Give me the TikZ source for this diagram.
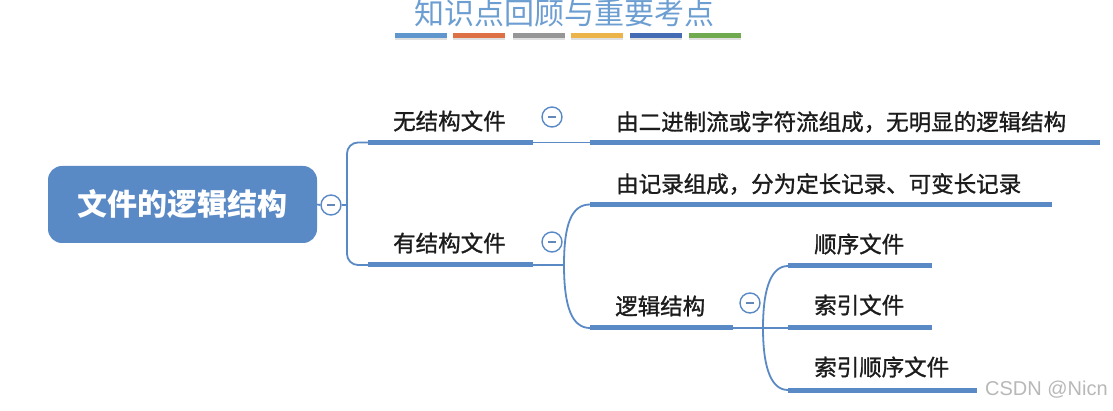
\documentclass[tikz,border=0pt]{standalone}
\usepackage{fontspec}
\newfontfamily\cjk{Noto Sans CJK SC}
\newfontfamily\cjkm[FakeBold=1.2]{Noto Sans CJK SC}
\newfontfamily\wmfont{Liberation Sans}
\definecolor{xblue}{RGB}{90,138,198}
\definecolor{titleblue}{RGB}{108,158,210}
\definecolor{txt}{RGB}{28,28,28}
\definecolor{barA}{RGB}{96,150,206}
\definecolor{barB}{RGB}{222,112,70}
\definecolor{barC}{RGB}{150,150,150}
\definecolor{barD}{RGB}{236,180,72}
\definecolor{barE}{RGB}{68,108,180}
\definecolor{barF}{RGB}{112,170,78}
\begin{document}
\begin{tikzpicture}[x=1pt,y=-1pt,
  rootbox/.style={draw=none, fill=xblue, rounded corners=14pt, minimum width=269pt, minimum height=77pt, inner sep=0pt, text=white, font=\cjk\bfseries\fontsize{30}{34}\selectfont},
  lbl/.style={anchor=west, inner sep=0pt, text=txt, font=\cjkm\fontsize{22.5}{27}\selectfont},
  uline/.style={draw=xblue, line width=5pt},
  conn/.style={draw=xblue, line width=1.8pt},
  fold/.style={circle, draw=xblue, line width=1.4pt, fill=white, minimum size=20pt, inner sep=0pt,
    path picture={\draw[xblue!80!gray, line width=1.3pt] (path picture bounding box.center) ++(-4pt,0pt) -- ++(8pt,0pt);}},
  bar/.style={inner sep=0pt, minimum width=52pt, minimum height=5pt, draw=none},
]
\useasboundingbox (0,0) rectangle (1113,411);
\fill[white] (0,0) rectangle (1113,411);

% title
\node[font=\cjk\fontsize{30}{34}\selectfont, text=titleblue, inner sep=0pt] (title) at (564,13.5) {知识点回顾与重要考点};
\foreach \x/\c [count=\i] in {421/barA,478.5/barB,538.5/barC,597/barD,655.5/barE,714.5/barF}{
  \fill[black!12] (\x-26,35) rectangle (\x+26,40.5);
  \node[bar, fill=\c] (bar\i) at (\x,36) {};
}

% root and fold buttons
\node[rootbox] (root) at (182.5,204.5) {文件的逻辑结构};
\node[fold] (f0) at (331,205) {};
\node[fold] (f1) at (552,117) {};
\node[fold] (f2) at (552,242) {};
\node[fold] (f3) at (750,303) {};

% coordinates
\coordinate (j0) at (347,205);
\coordinate (u1s) at (368,142.5);
\coordinate (u1e) at (533,142.5);
\coordinate (u1b) at (590,142.5);
\coordinate (u1f) at (1100,142.5);
\coordinate (u2s) at (368,265);
\coordinate (u2e) at (533,265);
\coordinate (j2) at (564,265);
\coordinate (u3s) at (590,204.5);
\coordinate (u3e) at (1052,204.5);
\coordinate (u4s) at (590,328);
\coordinate (u4e) at (733,328);
\coordinate (j4) at (763,328);
\coordinate (u5s) at (788,266);
\coordinate (u5e) at (932,266);
\coordinate (u6s) at (788,328);
\coordinate (u6e) at (932,328);
\coordinate (u7s) at (788,390);
\coordinate (u7e) at (977,390);

% connectors
\draw[conn] (root.east) -- (f0.west);
\draw[conn] (f0.east) -- (j0);
\draw[conn, rounded corners=11pt] (j0) |- (u1s);
\draw[conn, rounded corners=11pt] (j0) |- (u2s);
\draw[conn] (u1e) -- (u1b);
\draw[conn] (u2e) -- (j2);
\draw[conn] (j2) .. controls +(0,-42) and +(-18,0) .. (u3s);
\draw[conn] (j2) .. controls +(0,42) and +(-18,0) .. (u4s);
\draw[conn] (u4e) -- (j4);
\draw[conn] (j4) .. controls +(0,-42) and +(-16,0) .. (u5s);
\draw[conn] (j4) -- (u6s);
\draw[conn] (j4) .. controls +(0,42) and +(-16,0) .. (u7s);

% underlines
\draw[uline] (u1s) -- (u1e);
\draw[uline] (u1b) -- (u1f);
\draw[uline] (u2s) -- (u2e);
\draw[uline] (u3s) -- (u3e);
\draw[uline] (u4s) -- (u4e);
\draw[uline] (u5s) -- (u5e);
\draw[uline] (u6s) -- (u6e);
\draw[uline] (u7s) -- (u7e);

% labels
\node[lbl] (t1) at (393,121) {无结构文件};
\node[lbl] (t1b) at (616,122) {由二进制流或字符流组成，无明显的逻辑结构};
\node[lbl] (t2) at (393,243) {有结构文件};
\node[lbl] (t3) at (616,184) {由记录组成，分为定长记录、可变长记录};
\node[lbl] (t4) at (615,306) {逻辑结构};
\node[lbl] (t5) at (814,244) {顺序文件};
\node[lbl] (t6) at (814,305) {索引文件};
\node[lbl] (t7) at (814,367) {索引顺序文件};

% watermark
\node[anchor=west, inner sep=0pt, text=black!28, font=\wmfont\fontsize{20}{24}\selectfont] (wm) at (985,390) {CSDN @Nicn};
\end{tikzpicture}
\end{document}
